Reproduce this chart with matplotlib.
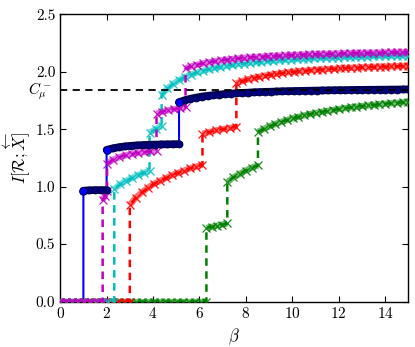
import numpy as np
import matplotlib
matplotlib.use("Agg")
import matplotlib.pyplot as plt

plt.rcParams['font.family'] = 'serif'
plt.rcParams['font.serif'] = ['cmr10']
plt.rcParams['mathtext.fontset'] = 'cm'
plt.rcParams['axes.formatter.use_mathtext'] = True

# ---- data: segments (beta_start, beta_end) ----
blue_segs = [
    (0.0, 1.0, [0, 0, 0, 0, 0]),
    (1.0, 2.0, [0.965, 0.968, 0.970, 0.970, 0.970]),
    (2.0, 5.12, [1.320, 1.333, 1.343, 1.350, 1.355, 1.359, 1.362, 1.364, 1.366,
                 1.367, 1.368, 1.369, 1.370]),
    (5.12, 15.0, [1.735, 1.752, 1.765, 1.775, 1.784, 1.790, 1.796, 1.801, 1.806,
                  1.809, 1.813, 1.816, 1.818, 1.821, 1.823, 1.825, 1.826, 1.828,
                  1.830, 1.831, 1.832, 1.833, 1.834, 1.835, 1.836, 1.837, 1.838,
                  1.839, 1.840, 1.840, 1.841, 1.842, 1.842, 1.843, 1.843, 1.844,
                  1.844, 1.845, 1.845, 1.846, 1.846]),
]
magenta_segs = [
    (0.0, 1.83, [0, 0, 0, 0, 0, 0, 0, 0]),
    (1.83, 2.02, [0.88, 0.92, 0.96]),
    (2.02, 4.15, [1.200, 1.235, 1.257, 1.272, 1.284, 1.293, 1.300, 1.306, 1.310]),
    (4.15, 5.4, [1.635, 1.652, 1.664, 1.674, 1.683, 1.690]),
    (5.4, 15.0, [2.030, 2.047, 2.061, 2.072, 2.082, 2.091, 2.098, 2.104, 2.110,
                 2.115, 2.120, 2.124, 2.128, 2.131, 2.134, 2.137, 2.140, 2.142,
                 2.145, 2.147, 2.149, 2.151, 2.152, 2.154, 2.155, 2.157, 2.158,
                 2.160, 2.161, 2.162, 2.163, 2.164, 2.165, 2.166, 2.167, 2.168,
                 2.168, 2.169, 2.170]),
]
cyan_segs = [
    (0.0, 2.33, [0, 0, 0, 0, 0, 0, 0, 0, 0, 0]),
    (2.33, 3.85, [0.98, 1.02, 1.05, 1.075, 1.10, 1.12, 1.135]),
    (3.85, 4.37, [1.47, 1.50, 1.53]),
    (4.37, 15.0, [1.799, 1.854, 1.896, 1.928, 1.954, 1.975, 1.993, 2.008, 2.021,
                  2.032, 2.042, 2.050, 2.058, 2.065, 2.071, 2.077, 2.082, 2.086,
                  2.091, 2.095, 2.098, 2.102, 2.105, 2.108, 2.110, 2.113, 2.115,
                  2.117, 2.120, 2.121, 2.123, 2.125, 2.127, 2.128, 2.130, 2.131,
                  2.133, 2.134, 2.135, 2.136, 2.138, 2.139, 2.140]),
]
red_segs = [
    (0.0, 3.0, [0, 0, 0, 0, 0, 0, 0, 0, 0, 0, 0, 0, 0]),
    (3.0, 6.13, [0.84, 0.905, 0.95, 0.99, 1.025, 1.05, 1.075, 1.10, 1.12, 1.14,
                 1.16, 1.175, 1.19]),
    (6.13, 7.59, [1.46, 1.475, 1.49, 1.50, 1.51, 1.52]),
    (7.59, 15.0, [1.900, 1.918, 1.933, 1.945, 1.956, 1.966, 1.974, 1.981, 1.988,
                  1.994, 1.999, 2.004, 2.008, 2.012, 2.016, 2.019, 2.023, 2.025,
                  2.028, 2.031, 2.033, 2.035, 2.037, 2.039, 2.041, 2.043, 2.044,
                  2.046, 2.047, 2.049, 2.050]),
]
green_segs = [
    (0.0, 6.3, [0] * 26),
    (6.3, 7.2, [0.64, 0.65, 0.66, 0.67, 0.68]),
    (7.2, 8.52, [1.04, 1.08, 1.11, 1.14, 1.165, 1.185]),
    (8.52, 15.0, [1.476, 1.502, 1.525, 1.545, 1.563, 1.579, 1.594, 1.607, 1.620,
                  1.631, 1.641, 1.650, 1.659, 1.667, 1.675, 1.682, 1.689, 1.695,
                  1.701, 1.706, 1.711, 1.716, 1.721, 1.725, 1.729, 1.733, 1.737]),
]
c_mu = 1.845
xticks = [0, 2, 4, 6, 8, 10, 12, 14]
yticks = [0.0, 0.5, 1.0, 1.5, 2.0, 2.5]


def build(segs):
    b, v = [], []
    for b0, b1, vals in segs:
        b.extend(np.linspace(b0, b1, len(vals)))
        v.extend(vals)
    return np.array(b), np.array(v, dtype=float)


fig = plt.figure(figsize=(4.15, 3.47), dpi=100)
ax = fig.add_axes([0.145, 0.131, 0.839, 0.828])

bb, vb = build(blue_segs)
ax.plot(bb, vb, '-', color='#0000ff', lw=1.5, zorder=2)

z = 3
for segs, col in [(green_segs, '#008000'), (red_segs, '#ff0000'),
                  (cyan_segs, '#00bfbf'), (magenta_segs, '#bf00bf')]:
    b, v = build(segs)
    ax.plot(b, v, '--', color=col, lw=1.8, dashes=(3, 2.2), zorder=z)
    for b0, b1, vals in segs:
        sb = np.linspace(b0, b1, len(vals))
        ax.plot(sb, vals, '-', color=col, lw=4.5, alpha=0.55,
                solid_capstyle='butt', zorder=z)
        ax.plot(sb, vals, 'x', color=col, ms=5.5, mew=0.9, alpha=0.9, zorder=z)
    z += 0.1

# dark circle band for the blue curve
for b0, b1, vals in blue_segs[1:]:
    sb = np.linspace(b0, b1, len(vals))
    ax.plot(sb, vals, '-', color='#000050', lw=5.5, solid_capstyle='round', zorder=4)
    ax.plot(sb, vals, 'o', ms=5, mfc='#000080', mec='#000040', mew=0.6, zorder=4)
    ax.plot(sb[:1], vals[:1], 'o', ms=5.5, mfc='#0000ff', mec='#000040',
            mew=0.6, zorder=4.1)

ax.axhline(c_mu, color='k', ls='--', lw=1.3, dashes=(4, 3), zorder=5)
ax.text(-0.35, c_mu - 0.01, r'$C_\mu^-$', ha='right', va='center', fontsize=11)

ax.set_xlim(0, 15)
ax.set_ylim(0, 2.5)
ax.set_xticks(xticks)
ax.set_yticks(yticks)
ax.set_yticklabels(['%.1f' % t for t in yticks])
ax.tick_params(direction='in', top=True, right=True, length=4, labelsize=11)
for s in ax.spines.values():
    s.set_linewidth(1.0)
ax.set_xlabel(r'$\beta$', fontsize=12)
ax.set_ylabel(r'$I[\mathcal{R};\overleftarrow{X}]$', fontsize=12, labelpad=2)

fig.savefig('out.png', dpi=100)
